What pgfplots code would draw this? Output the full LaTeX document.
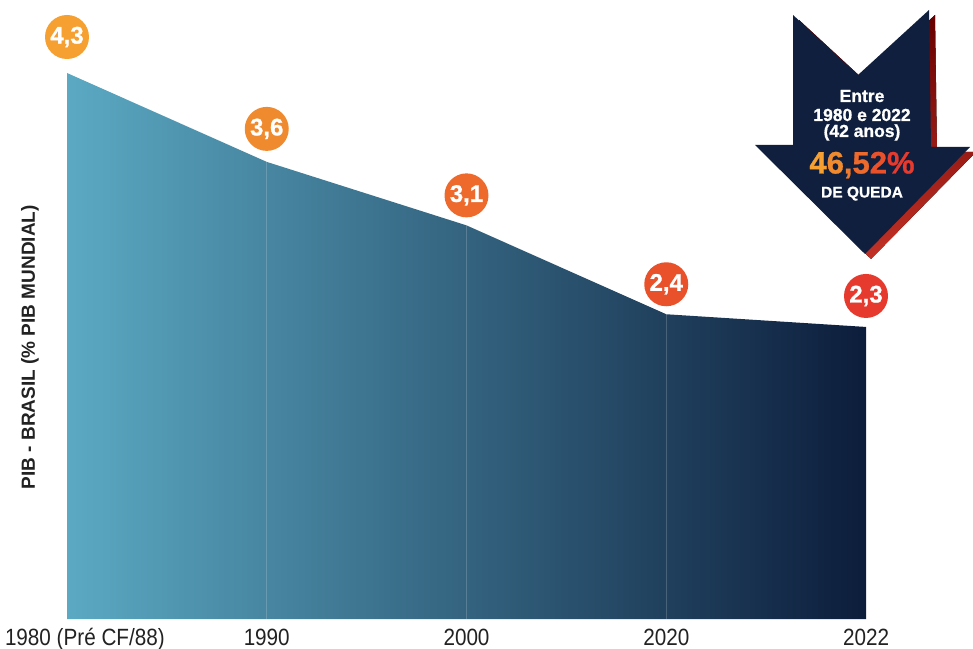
\documentclass[border=0pt]{standalone}
\usepackage{pgfplots}
\pgfplotsset{compat=1.18}
\usepackage{fontspec}
\setmainfont{Liberation Sans}
\newfontfamily\narrowfont[FakeStretch=0.88]{Liberation Sans}
\newfontfamily\heavy[BoldFeatures={FakeBold=0.9}]{Liberation Sans}
\definecolor{cL}{HTML}{5BA9C3}
\definecolor{cM}{HTML}{3D6D86}
\definecolor{cR}{HTML}{0C1D3B}
\definecolor{o1}{HTML}{F5A030}
\definecolor{o2}{HTML}{F08A2E}
\definecolor{o3}{HTML}{EE6A2C}
\definecolor{o4}{HTML}{E9512B}
\definecolor{o5}{HTML}{E53A2D}
\definecolor{navy}{HTML}{0F1F3D}
\definecolor{txt}{HTML}{222222}
\newcommand\bubble[5]{%
  \addplot[draw=none, mark=none, nodes near coords={#3},
    every node near coord/.style={circle, fill=#4, text=white, minimum size=44pt,
      inner sep=0pt, anchor=center, yshift=#5, font=\heavy\bfseries\fontsize{24}{24}\selectfont}]
    coordinates {(#1,#2)};}
\begin{document}
\begin{tikzpicture}
\useasboundingbox (0,0) rectangle (973pt,648pt);
\begin{axis}[
  at={(67pt,29pt)}, anchor=south west,
  scale only axis, width=799pt, height=546pt,
  xmin=0, xmax=4, ymin=0, ymax=4.3,
  clip=false,
  axis line style={draw=none},
  tick style={draw=none},
  ytick=\empty,
  xtick={0,1,2,3,4},
  xticklabels={{\makebox[0pt][l]{\hspace*{-62pt}1980 (Pré CF/88)}},1990,2000,2020,2022},
  xticklabel style={inner sep=0pt, anchor=base, yshift=-26pt, text=txt,
    font=\narrowfont\fontsize{23.5}{23.5}\selectfont},
  ylabel={\textbf{PIB - BRASIL (\% PIB MUNDIAL)}},
  every axis y label/.style={at={(axis description cs:-0.0463,0.498)}, rotate=90,
    anchor=center, text=txt, font=\fontsize{19}{19}\selectfont},
]
\addplot[draw=none, left color=cL, middle color=cM, right color=cR]
  coordinates {(0,4.3) (1,3.6) (2,3.1) (3,2.4) (4,2.3)} \closedcycle;
\addplot[ycomb, draw=white, opacity=0.18, line width=0.8pt, mark=none]
  coordinates {(1,3.6) (2,3.1) (3,2.4)};
\bubble{0}{4.3}{4,3}{o1}{36pt}
\bubble{1}{3.6}{3,6}{o2}{33pt}
\bubble{2}{3.1}{3,1}{o3}{30pt}
\bubble{3}{2.4}{2,4}{o4}{30pt}
\bubble{4}{2.3}{2,3}{o5}{31pt}
\end{axis}
% annotation arrow
\fill[top color=red!40!black, bottom color=o5!85!black, shift={(6pt,-5pt)}]
  (793pt,633pt) -- (858pt,573pt) -- (929pt,638pt) -- (931pt,501pt) -- (970pt,501pt)
  -- (865pt,394pt) -- (755pt,503pt) -- (793pt,503pt) -- cycle;
\fill[navy]
  (793pt,633pt) -- (858pt,573pt) -- (929pt,638pt) -- (931pt,501pt) -- (970pt,501pt)
  -- (865pt,394pt) -- (755pt,503pt) -- (793pt,503pt) -- cycle;
\begin{scope}[every node/.style={anchor=base, inner sep=0pt, text=white}]
\node[font=\heavy\bfseries\fontsize{17.5}{17.5}\selectfont] at (862pt,546pt) {Entre};
\node[font=\heavy\bfseries\fontsize{17.5}{17.5}\selectfont] at (862pt,527pt) {1980 e 2022};
\node[font=\heavy\bfseries\fontsize{17.5}{17.5}\selectfont] at (862pt,511pt) {(42 anos)};
\node[font=\heavy\bfseries\fontsize{31}{31}\selectfont] at (862pt,474.5pt)
  {\textcolor{o1}{4}\textcolor{o2}{6}\textcolor{o2!50!o3}{,}\textcolor{o3}{5}\textcolor{o4}{2}\textcolor{o5}{\%}};
\node[font=\heavy\bfseries\fontsize{15.5}{15.5}\selectfont] at (862pt,450.5pt) {DE QUEDA};
\end{scope}
\end{tikzpicture}
\end{document}
